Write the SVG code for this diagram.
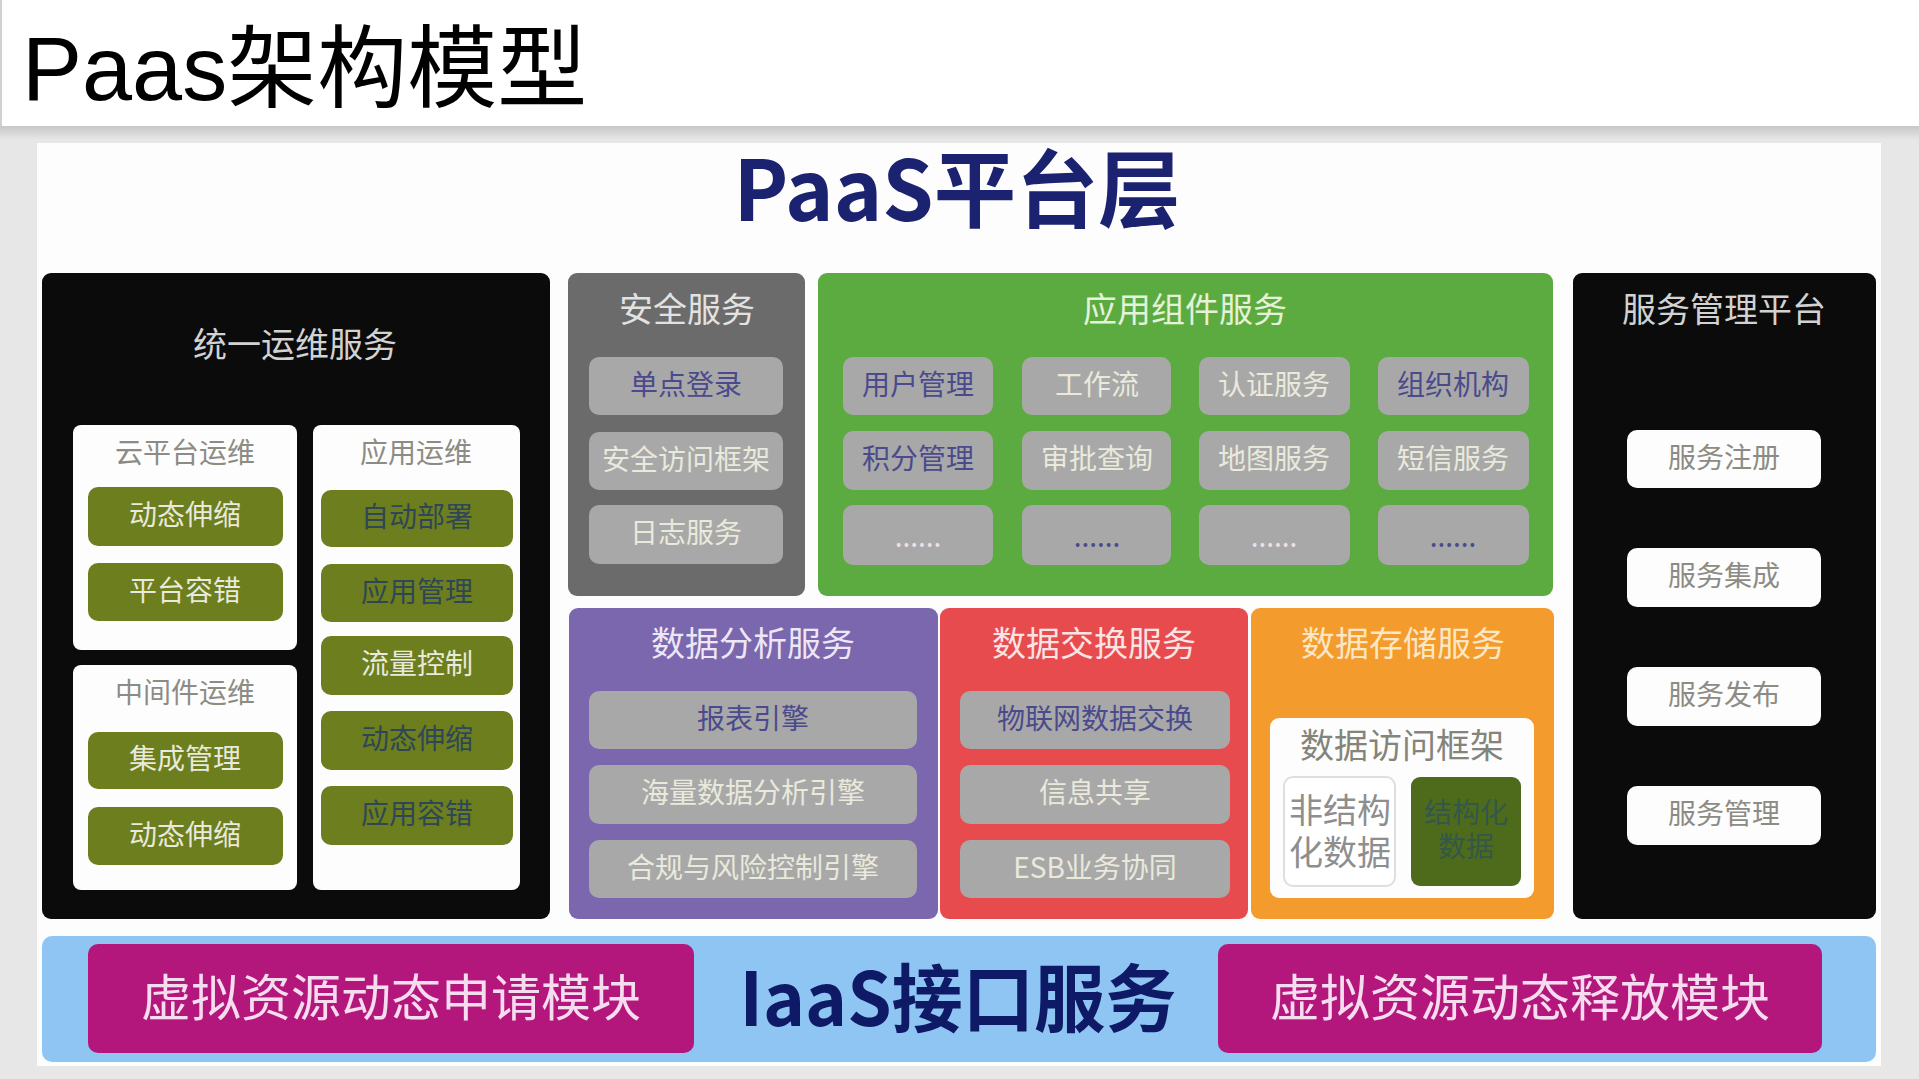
<svg xmlns="http://www.w3.org/2000/svg" width="1919" height="1079" viewBox="0 0 1919 1079">
<defs>
<linearGradient id="shadow" x1="0" y1="0" x2="0" y2="1">
<stop offset="0" stop-color="#c8c8c8"/>
<stop offset="1" stop-color="#e7e7e7"/>
</linearGradient>
</defs>
<style>
.cj{font-family:"Noto Sans CJK SC","Noto Sans",sans-serif;text-anchor:middle;dominant-baseline:central}
.h{font-size:34px}
.s{font-size:28px}
.blk{fill:#0b0b0b}
.wbox{fill:#fdfdfd}
.olive{fill:#6c7e1d}
.gbtn{fill:#a8a8a8}
.lt{fill:#e9e9dc}
.dk{fill:#2f4656}
.pu{fill:#4b4a8c}
.gt{fill:#8c8c84}
</style>
<rect x="0" y="0" width="1919" height="1079" fill="#e7e7e7"/>
<rect x="0" y="126" width="1919" height="14" fill="url(#shadow)"/>
<rect x="0" y="0" width="1919" height="126" fill="#ffffff"/>
<rect x="0" y="0" width="2" height="126" fill="#d0d0d0"/>
<text x="22" y="100" font-family="'Liberation Sans','Noto Sans CJK SC',sans-serif" font-size="90" fill="#000">Paas架构模型</text>
<rect x="37" y="143" width="1844" height="923" fill="#fdfdfd"/>
<text x="957" y="184" class="cj" font-family="'Liberation Sans','Noto Sans CJK SC',sans-serif" font-size="84" font-weight="bold" fill="#1b2270" textLength="447" lengthAdjust="spacingAndGlyphs">PaaS平台层</text>

<g id="ops">
<rect x="42" y="273" width="508" height="646" rx="9" class="blk"/>
<text x="295" y="342" class="cj h" fill="#d2d2d2">统一运维服务</text>
<g id="ops-cloud">
<rect x="73" y="425" width="224" height="225" rx="8" class="wbox"/>
<text x="185" y="451" class="cj s gt">云平台运维</text>
<rect x="88" y="487" width="195" height="59" rx="10" class="olive"/>
<text x="185" y="513" class="cj s lt">动态伸缩</text>
<rect x="88" y="563" width="195" height="58" rx="10" class="olive"/>
<text x="185" y="589" class="cj s lt">平台容错</text>
</g>
<g id="ops-mw">
<rect x="73" y="665" width="224" height="225" rx="8" class="wbox"/>
<text x="185" y="691" class="cj s gt">中间件运维</text>
<rect x="88" y="732" width="195" height="57" rx="10" class="olive"/>
<text x="185" y="757" class="cj s lt">集成管理</text>
<rect x="88" y="807" width="195" height="58" rx="10" class="olive"/>
<text x="185" y="833" class="cj s lt">动态伸缩</text>
</g>
<g id="ops-app">
<rect x="313" y="425" width="207" height="465" rx="8" class="wbox"/>
<text x="416" y="451" class="cj s gt">应用运维</text>
<rect x="321" y="490" width="192" height="57" rx="10" class="olive"/>
<text x="417" y="515" class="cj s dk">自动部署</text>
<rect x="321" y="564" width="192" height="58" rx="10" class="olive"/>
<text x="417" y="590" class="cj s dk">应用管理</text>
<rect x="321" y="636" width="192" height="59" rx="10" class="olive"/>
<text x="417" y="662" class="cj s lt">流量控制</text>
<rect x="321" y="711" width="192" height="59" rx="10" class="olive"/>
<text x="417" y="737" class="cj s dk">动态伸缩</text>
<rect x="321" y="786" width="192" height="59" rx="10" class="olive"/>
<text x="417" y="812" class="cj s dk">应用容错</text>
</g>
</g>

<g id="security">
<rect x="568" y="273" width="237" height="323" rx="9" fill="#6b6b6b"/>
<text x="687" y="307" class="cj h" fill="#e2e2e2">安全服务</text>
<rect x="589" y="357" width="194" height="58" rx="10" class="gbtn"/>
<text x="686" y="383" class="cj s pu">单点登录</text>
<rect x="589" y="432" width="194" height="58" rx="10" class="gbtn"/>
<text x="686" y="458" class="cj s lt">安全访问框架</text>
<rect x="589" y="505" width="194" height="59" rx="10" class="gbtn"/>
<text x="686" y="531" class="cj s lt">日志服务</text>
</g>

<g id="components">
<rect x="818" y="273" width="735" height="323" rx="9" fill="#5cab41"/>
<text x="1185" y="307" class="cj h" fill="#e4f2d8">应用组件服务</text>
<rect x="843" y="357" width="150" height="58" rx="10" class="gbtn"/>
<text x="918" y="383" class="cj s pu">用户管理</text>
<rect x="1022" y="357" width="149" height="58" rx="10" class="gbtn"/>
<text x="1097" y="383" class="cj s lt">工作流</text>
<rect x="1199" y="357" width="151" height="58" rx="10" class="gbtn"/>
<text x="1274" y="383" class="cj s lt">认证服务</text>
<rect x="1378" y="357" width="151" height="58" rx="10" class="gbtn"/>
<text x="1453" y="383" class="cj s pu">组织机构</text>
<rect x="843" y="431" width="150" height="59" rx="10" class="gbtn"/>
<text x="918" y="457" class="cj s pu">积分管理</text>
<rect x="1022" y="431" width="149" height="59" rx="10" class="gbtn"/>
<text x="1097" y="457" class="cj s lt">审批查询</text>
<rect x="1199" y="431" width="151" height="59" rx="10" class="gbtn"/>
<text x="1274" y="457" class="cj s lt">地图服务</text>
<rect x="1378" y="431" width="151" height="59" rx="10" class="gbtn"/>
<text x="1453" y="457" class="cj s lt">短信服务</text>
<rect x="843" y="505" width="150" height="60" rx="10" class="gbtn"/>
<text x="918" y="535" class="cj s" fill="#ece0ea">......</text>
<rect x="1022" y="505" width="149" height="60" rx="10" class="gbtn"/>
<text x="1097" y="535" class="cj s pu">......</text>
<rect x="1199" y="505" width="151" height="60" rx="10" class="gbtn"/>
<text x="1274" y="535" class="cj s" fill="#ece0ea">......</text>
<rect x="1378" y="505" width="151" height="60" rx="10" class="gbtn"/>
<text x="1453" y="535" class="cj s pu">......</text>
</g>

<g id="svcmgmt">
<rect x="1573" y="273" width="303" height="646" rx="9" class="blk"/>
<text x="1724" y="307" class="cj h" fill="#d2d2d2">服务管理平台</text>
<rect x="1627" y="430" width="194" height="58" rx="10" class="wbox"/>
<text x="1724" y="456" class="cj s gt">服务注册</text>
<rect x="1627" y="548" width="194" height="59" rx="10" class="wbox"/>
<text x="1724" y="574" class="cj s gt">服务集成</text>
<rect x="1627" y="667" width="194" height="59" rx="10" class="wbox"/>
<text x="1724" y="693" class="cj s gt">服务发布</text>
<rect x="1627" y="786" width="194" height="59" rx="10" class="wbox"/>
<text x="1724" y="812" class="cj s gt">服务管理</text>
</g>

<g id="analysis">
<rect x="569" y="608" width="369" height="311" rx="9" fill="#7a67ad"/>
<text x="753" y="641" class="cj h" fill="#ece6f6">数据分析服务</text>
<rect x="589" y="691" width="328" height="58" rx="10" class="gbtn"/>
<text x="753" y="717" class="cj s pu">报表引擎</text>
<rect x="589" y="765" width="328" height="59" rx="10" class="gbtn"/>
<text x="753" y="791" class="cj s lt">海量数据分析引擎</text>
<rect x="589" y="840" width="328" height="58" rx="10" class="gbtn"/>
<text x="753" y="866" class="cj s lt">合规与风险控制引擎</text>
</g>

<g id="exchange">
<rect x="940" y="608" width="308" height="311" rx="9" fill="#e84b4e"/>
<text x="1094" y="641" class="cj h" fill="#fae4e4">数据交换服务</text>
<rect x="960" y="691" width="270" height="58" rx="10" class="gbtn"/>
<text x="1095" y="717" class="cj s pu">物联网数据交换</text>
<rect x="960" y="765" width="270" height="59" rx="10" class="gbtn"/>
<text x="1095" y="791" class="cj s lt">信息共享</text>
<rect x="960" y="840" width="270" height="58" rx="10" class="gbtn"/>
<text x="1095" y="866" class="cj s lt">ESB业务协同</text>
</g>

<g id="storage">
<rect x="1251" y="608" width="303" height="311" rx="9" fill="#f39b2c"/>
<text x="1403" y="641" class="cj h" fill="#fde6c4">数据存储服务</text>
<rect x="1270" y="718" width="264" height="180" rx="9" class="wbox"/>
<text x="1402" y="743" class="cj h" fill="#84847a">数据访问框架</text>
<rect x="1284" y="777" width="111" height="109" rx="9" fill="#ffffff" stroke="#dedede" stroke-width="2"/>
<text class="cj h" fill="#8e8e8e"><tspan x="1340" y="808">非结构</tspan><tspan x="1340" y="850">化数据</tspan></text>
<rect x="1411" y="777" width="110" height="109" rx="9" fill="#4e6b1c"/>
<text class="cj s" fill="#33574a"><tspan x="1466" y="811">结构化</tspan><tspan x="1466" y="845">数据</tspan></text>
</g>

<g id="iaas">
<rect x="42" y="936" width="1834" height="126" rx="10" fill="#8ec5f2"/>
<rect x="88" y="944" width="606" height="109" rx="10" fill="#b3177b"/>
<text x="391" y="994" class="cj" font-size="50" fill="#f6dcef">虚拟资源动态申请模块</text>
<text x="958" y="993" class="cj" font-family="'Liberation Sans','Noto Sans CJK SC',sans-serif" font-size="74" font-weight="bold" fill="#0e1a66" textLength="437" lengthAdjust="spacingAndGlyphs">IaaS接口服务</text>
<rect x="1218" y="944" width="604" height="109" rx="10" fill="#b3177b"/>
<text x="1520" y="994" class="cj" font-size="50" fill="#f6dcef">虚拟资源动态释放模块</text>
</g>

<g id="connectors"></g>
</svg>
